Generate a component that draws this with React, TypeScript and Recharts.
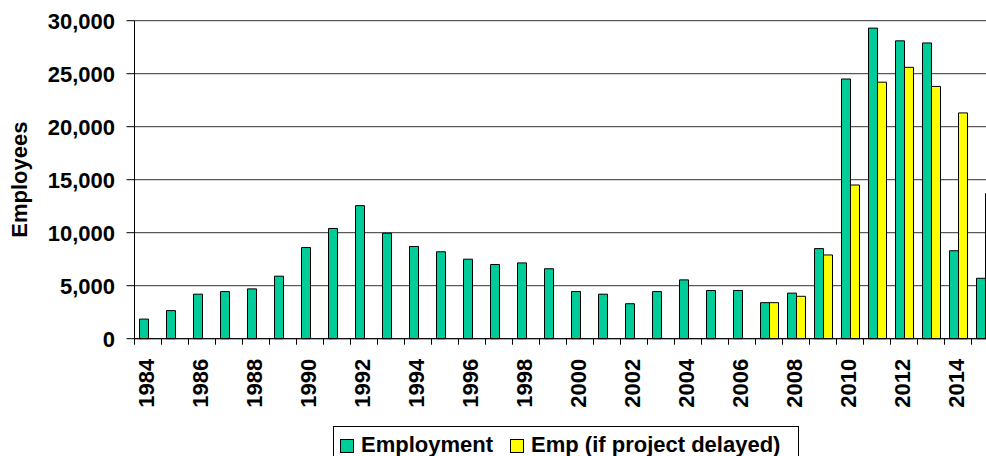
import React from 'react';
import { BarChart, Bar, XAxis, YAxis, CartesianGrid } from 'recharts';

const years = ['1984','1985','1986','1987','1988','1989','1990','1991','1992','1993','1994','1995','1996','1997','1998','1999','2000','2001','2002','2003','2004','2005','2006','2007','2008','2009','2010','2011','2012','2013','2014','2015'];
const employment = [1850,2650,4200,4450,4700,5900,8600,10400,12550,9950,8700,8200,7500,7000,7150,6600,4450,4200,3300,4450,5550,4550,4550,3400,4300,8500,24500,29300,28100,27900,8300,5700];
const delayed = [null,null,null,null,null,null,null,null,null,null,null,null,null,null,null,null,null,null,null,null,null,null,null,3400,4000,7900,14500,24200,25600,23800,21300,13700];
const yTicks = [0, 5000, 10000, 15000, 20000, 25000, 30000];
const seriesNames = ['Employment', 'Emp (if project delayed)'];
const seriesColors = ['#00CC99', '#FFFF00'];

const data = years.map((y, i) => ({ year: y, emp: employment[i], del: delayed[i] }));

const FONT = "'Liberation Sans', Arial, sans-serif";
const FS = 22;
const CHART_W = 1010;
const LEFT = 134.5;
const PLOT_W = 864;
const BW = PLOT_W / years.length;

const XTick = (props: any) => {
  const { x, y, payload } = props;
  const yr = parseInt(payload.value, 10);
  const lx = x - BW / 2;
  const tx = x + 6;
  const ty = y + 20;
  return (
    <g>
      <line x1={lx} y1={y} x2={lx} y2={y + 6} stroke="#000" strokeWidth={1} />
      {yr % 2 === 0 && (
        <text
          x={tx}
          y={ty}
          transform={`rotate(-90, ${tx}, ${ty})`}
          textAnchor="end"
          fontFamily={FONT}
          fontWeight="bold"
          fontSize={FS}
          fill="#000"
        >
          {payload.value}
        </text>
      )}
    </g>
  );
};

const YLabel = (props: any) => {
  const vb = props.viewBox || { x: 0, y: 0, width: 0, height: 0 };
  const x = vb.x + 27;
  const y = vb.y + vb.height / 2;
  return (
    <text
      x={x}
      y={y}
      transform={`rotate(-90, ${x}, ${y})`}
      textAnchor="middle"
      fontFamily={FONT}
      fontWeight="bold"
      fontSize={FS}
      fill="#000"
    >
      Employees
    </text>
  );
};

export default function App() {
  return (
    <div style={{ position: 'fixed', left: 0, top: 0, width: 986, height: 456, overflow: 'hidden', background: '#fff' }}>
      <BarChart
        width={CHART_W}
        height={456}
        data={data}
        margin={{ top: 20.7, right: CHART_W - LEFT - PLOT_W, left: 0, bottom: 37.3 }}
        barCategoryGap={5}
        barGap={0}
      >
        <CartesianGrid vertical={false} stroke="#333" strokeWidth={1} />
        <XAxis
          dataKey="year"
          interval={0}
          tickLine={false}
          tickSize={0}
          tickMargin={0}
          height={80}
          axisLine={{ stroke: '#000', strokeWidth: 1 }}
          tick={<XTick />}
        />
        <YAxis
          width={LEFT}
          domain={[0, 30000]}
          ticks={yTicks}
          interval={0}
          tickSize={8}
          tickMargin={11.5}
          axisLine={{ stroke: '#000', strokeWidth: 1 }}
          tickLine={{ stroke: '#000', strokeWidth: 1 }}
          tickFormatter={(v: number) => v.toLocaleString('en-US')}
          tick={{ fontFamily: FONT, fontWeight: 'bold', fontSize: FS, fill: '#000' }}
          label={<YLabel />}
        />
        <Bar dataKey="emp" name={seriesNames[0]} fill={seriesColors[0]} stroke="#000" strokeWidth={1} isAnimationActive={false} />
        <Bar dataKey="del" name={seriesNames[1]} fill={seriesColors[1]} stroke="#000" strokeWidth={1} isAnimationActive={false} />
      </BarChart>
      <div
        style={{
          position: 'absolute',
          left: 333,
          top: 426,
          width: 466,
          height: 40,
          border: '1px solid #000',
          background: '#fff',
          display: 'flex',
          alignItems: 'flex-start',
          paddingLeft: 6,
          paddingTop: 7,
          boxSizing: 'border-box',
          fontFamily: FONT,
          fontWeight: 'bold',
          fontSize: FS,
          color: '#000',
          whiteSpace: 'nowrap',
        }}
      >
        {seriesNames.map((n, i) => (
          <div key={n} style={{ display: 'flex', alignItems: 'flex-start', marginRight: 17 }}>
            <span style={{ display: 'inline-block', width: 14, height: 14, marginTop: 5, background: seriesColors[i], border: '1px solid #000', boxSizing: 'border-box', marginRight: 7 }} />
            <span style={{ lineHeight: '22px' }}>{n}</span>
          </div>
        ))}
      </div>
    </div>
  );
}
